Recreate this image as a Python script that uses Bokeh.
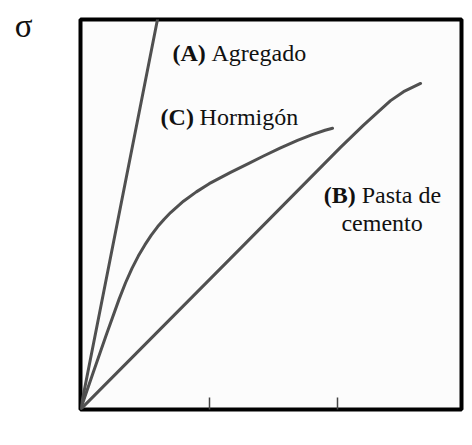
from bokeh.plotting import figure
from bokeh.models import Range1d, FixedTicker
from bokeh.core.properties import value
from bokeh.embed import file_html
from bokeh.resources import INLINE

# Curves (strain, stress)
a_x = [0.0, 0.61]
a_y = [0.0, 102.0]

c_x = [0.0, 0.1, 0.2, 0.3, 0.35, 0.4, 0.45, 0.5, 0.55, 0.6, 0.65, 0.7, 0.8, 0.9, 1.0,
       1.166, 1.3, 1.422, 1.55, 1.686, 1.8, 1.9, 1.958]
c_y = [0.0, 9.6, 19.1, 28.3, 32.5, 36.2, 39.4, 42.2, 44.7, 46.9, 48.8, 50.5, 53.4, 55.8, 57.9,
       60.8, 63.0, 65.0, 67.0, 69.0, 70.5, 71.6, 72.1]

b_x = [0.0, 1.243, 2.020, 2.199, 2.308, 2.409, 2.510, 2.642]
b_y = [0.0, 41.3, 67.2, 72.9, 76.2, 79.2, 81.5, 83.6]

x_ticks = [1, 2]
sigma_y = 98.4

# Labels
lab_bold = ["(A)", "(C)", "(B)"]
lab_text = ["Agregado", "Hormigón", "Pasta de"]
lab_x = [0.715, 0.622, 1.890]
lab_y = [91.3, 74.9, 54.9]
lab_off = [39, 39, 38]

p = figure(width=464, height=437, output_backend="svg", toolbar_location=None,
           x_range=Range1d(0, 2.96), y_range=Range1d(0, 100),
           min_border_left=80, min_border_right=3, min_border_top=19, min_border_bottom=28)

p.background_fill_color = "#fcfcfc"
p.border_fill_color = "white"
p.outline_line_color = "black"
p.outline_line_width = 4
p.xgrid.visible = False
p.ygrid.visible = False

ax = p.xaxis[0]
ax.ticker = FixedTicker(ticks=x_ticks)
ax.major_label_overrides = {1: "", 2: ""}
ax.axis_line_color = None
ax.major_tick_in = 12
ax.major_tick_out = 0
ax.major_tick_line_color = "#444444"
ax.major_tick_line_width = 1.5
ax.minor_tick_line_color = None

ay = p.yaxis[0]
ay.ticker = FixedTicker(ticks=[sigma_y])
ay.major_label_overrides = {sigma_y: "σ"}
ay.axis_line_color = None
ay.major_tick_line_color = None
ay.minor_tick_line_color = None
ay.major_tick_in = 0
ay.major_tick_out = 0
ay.major_label_standoff = 48
ay.major_label_text_font = "Liberation Serif"
ay.major_label_text_font_size = "33px"
ay.major_label_text_color = "#111111"

lc = "#505050"
for xs, ys in [(a_x, a_y), (c_x, c_y), (b_x, b_y)]:
    p.line(xs, ys, line_color=lc, line_width=3, line_cap="round", line_join="round")

font = value("Liberation Serif")
for i in range(3):
    p.text(x=[lab_x[i]], y=[lab_y[i]], text=[lab_bold[i]], text_font=font,
           text_font_size="24px", text_font_style="bold", text_color="#111111",
           text_align="left", text_baseline="alphabetic")
    p.text(x=[lab_x[i]], y=[lab_y[i]], text=[lab_text[i]], text_font=font,
           text_font_size="24px", text_color="#111111", x_offset=lab_off[i],
           text_align="left", text_baseline="alphabetic")

p.text(x=[2.343], y=[47.7], text=["cemento"], text_font=font,
       text_font_size="24px", text_color="#111111",
       text_align="center", text_baseline="alphabetic")

open("out.html", "w").write(file_html(p, INLINE))
